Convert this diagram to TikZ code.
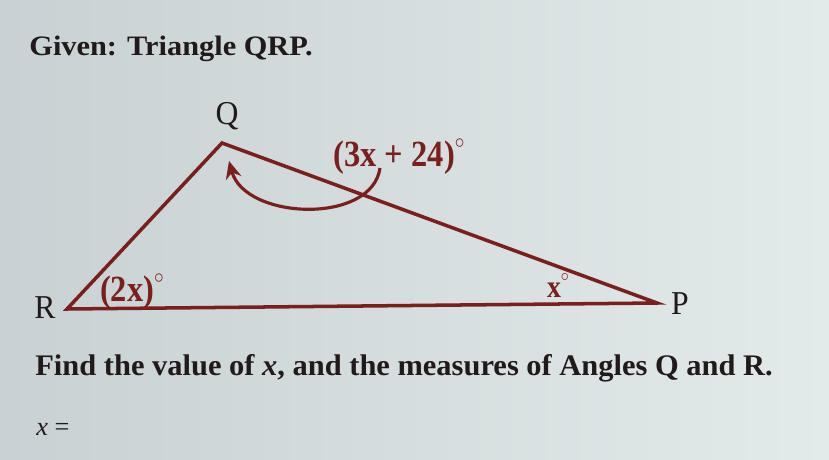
\documentclass[tikz,border=0pt]{standalone}
\usepackage{fontspec}
\usepackage{amsmath,amssymb}
\setmainfont{Liberation Serif}
\usetikzlibrary{arrows.meta}
\definecolor{screenL}{HTML}{C8D1D3}
\definecolor{screenR}{HTML}{E3EAEA}
\definecolor{ink}{HTML}{201A1A}
\definecolor{tri}{HTML}{7A1F1C}
\newcommand{\dg}{\smash{\raisebox{0.5em}{\scalebox{0.6}{$\circ$}}}}

\begin{document}
\begin{tikzpicture}[x=0.02cm,y=-0.02cm,
  txt/.style={anchor=base west,inner sep=0pt,text=ink,font=\fontsize{17}{20}\selectfont\bfseries},
  vlab/.style={inner sep=0pt,text=ink,font=\fontsize{19}{20}\selectfont,xscale=0.95},
  alab/.style={inner sep=0pt,text=tri,font=\fontsize{21}{24}\selectfont\bfseries,xscale=0.88}]
\fill[left color=screenL,right color=screenR] (0,0) rectangle (829,460);
\useasboundingbox (0,0) rectangle (829,460);
% texts
\node[txt,font=\fontsize{16}{20}\selectfont\bfseries,xscale=1.08] (given) at (29,55) {Given: Triangle QRP.};
\node[txt,xscale=1.02] (find) at (35,375) {Find the value of \textit{x}, and the measures of Angles Q and R.};
\node[txt,font=\fontsize{15}{20}\selectfont] (xeq) at (36,435) {\textit{x} =};
% triangle
\coordinate (Q) at (222,143);
\coordinate (R) at (67,309);
\coordinate (P) at (657,303);
\draw[color=tri,line width=2pt] (R) -- (Q) -- (P) -- cycle;
\node[vlab] (lQ) at (227,116) {Q};
\node[vlab] (lR) at (45,308) {R};
\node[vlab] (lP) at (680,304) {P};
% angles
\node[alab] (aQ) at (399,158) {(3x + 24)\dg};
\node[alab] (aR) at (132,293) {(2x)\dg};
\node[alab,font=\fontsize{18}{20}\selectfont\bfseries] (aP) at (558,290) {x\dg};
\coordinate (arcS) at (380,168);
\coordinate (arcE) at (229,161);
\draw[color=tri,line width=1.8pt,-{Stealth[length=10pt,width=9pt]}] (arcS) .. controls (372,225) and (245,220) .. (arcE);
\end{tikzpicture}
\end{document}
